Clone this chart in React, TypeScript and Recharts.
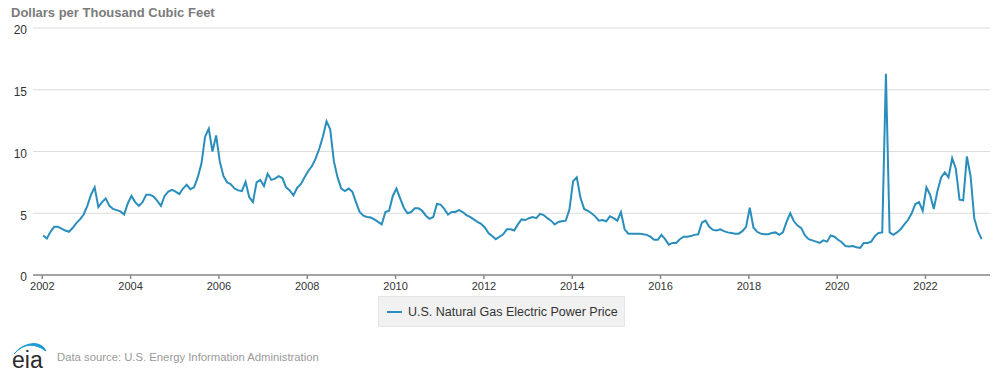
import React from "react";
import { LineChart, Line, XAxis, YAxis, CartesianGrid, Legend } from "recharts";

const startYear = 2002;
const v2002 = [3.2, 2.95, 3.5, 3.9, 3.9, 3.75, 3.6, 3.5, 3.8, 4.2, 4.5, 4.9];
const v2003 = [5.6, 6.5, 7.1, 5.5, 5.9, 6.2, 5.6, 5.35, 5.25, 5.15, 4.9, 5.8];
const v2004 = [6.4, 5.9, 5.6, 5.9, 6.5, 6.5, 6.35, 6.0, 5.6, 6.4, 6.75, 6.9];
const v2005 = [6.75, 6.55, 7.0, 7.3, 6.95, 7.1, 7.9, 9.0, 11.2, 11.85, 10.0, 11.3];
const v2006 = [9.2, 8.0, 7.5, 7.35, 7.0, 6.85, 6.8, 7.55, 6.3, 5.9, 7.5, 7.7];
const v2007 = [7.2, 8.2, 7.7, 7.8, 8.0, 7.85, 7.1, 6.85, 6.45, 7.05, 7.35, 7.9];
const v2008 = [8.4, 8.8, 9.4, 10.2, 11.2, 12.45, 11.8, 9.2, 7.9, 7.0, 6.8, 7.0];
const v2009 = [6.75, 5.9, 5.1, 4.8, 4.7, 4.65, 4.5, 4.3, 4.1, 5.1, 5.2, 6.4];
const v2010 = [7.0, 6.2, 5.45, 5.0, 5.1, 5.4, 5.4, 5.2, 4.8, 4.55, 4.7, 5.75];
const v2011 = [5.7, 5.35, 4.9, 5.1, 5.1, 5.25, 5.1, 4.85, 4.7, 4.5, 4.3, 4.15];
const v2012 = [3.85, 3.4, 3.15, 2.9, 3.1, 3.3, 3.7, 3.7, 3.6, 4.1, 4.5, 4.45];
const v2013 = [4.6, 4.7, 4.6, 4.95, 4.85, 4.6, 4.4, 4.1, 4.3, 4.35, 4.4, 5.3];
const v2014 = [7.6, 7.9, 6.25, 5.35, 5.2, 5.0, 4.75, 4.4, 4.45, 4.35, 4.75, 4.6];
const v2015 = [4.4, 5.1, 3.7, 3.35, 3.35, 3.35, 3.35, 3.3, 3.25, 3.1, 2.85, 2.85];
const v2016 = [3.25, 2.9, 2.45, 2.6, 2.6, 2.9, 3.1, 3.1, 3.15, 3.25, 3.3, 4.25];
const v2017 = [4.4, 3.9, 3.65, 3.6, 3.7, 3.55, 3.45, 3.4, 3.35, 3.35, 3.55, 3.9];
const v2018 = [5.45, 3.85, 3.5, 3.35, 3.3, 3.3, 3.4, 3.45, 3.25, 3.45, 4.3, 5.0];
const v2019 = [4.35, 4.0, 3.8, 3.2, 2.9, 2.8, 2.7, 2.6, 2.8, 2.7, 3.2, 3.1];
const v2020 = [2.85, 2.65, 2.35, 2.3, 2.35, 2.25, 2.2, 2.6, 2.6, 2.7, 3.15, 3.4];
const v2021 = [3.45, 16.3, 3.45, 3.25, 3.45, 3.7, 4.1, 4.45, 5.0, 5.75, 5.9, 5.2];
const v2022 = [7.1, 6.5, 5.35, 6.8, 7.9, 8.3, 7.9, 9.45, 8.6, 6.1, 6.05, 9.6];
const v2023 = [8.0, 4.6, 3.55, 2.9];

const yearlyValues = [
  v2002, v2003, v2004, v2005, v2006, v2007, v2008, v2009, v2010, v2011, v2012,
  v2013, v2014, v2015, v2016, v2017, v2018, v2019, v2020, v2021, v2022, v2023,
];

const xTicks = [2002, 2004, 2006, 2008, 2010, 2012, 2014, 2016, 2018, 2020, 2022];
const yTicks = [0, 5, 10, 15, 20];
const seriesName = "U.S. Natural Gas Electric Power Price";
const unitTitle = "Dollars per Thousand Cubic Feet";
const sourceText = "Data source: U.S. Energy Information Administration";

const data = yearlyValues.flatMap((vals, yi) =>
  vals.map((v, m) => ({ t: startYear + yi + m / 12 + 0.02, price: v }))
);

const FONT = "'Liberation Sans', Arial, Helvetica, sans-serif";
const LINE_COLOR = "#2a8ebc";

const renderLegend = () => (
  <div
    style={{
      width: "100%",
      height: "100%",
      boxSizing: "border-box",
      background: "#f1f1f1",
      border: "1px solid #e6e6e6",
      display: "flex",
      alignItems: "center",
      fontFamily: FONT,
      fontSize: 12.5,
      color: "#333",
    }}
  >
    <span
      style={{
        display: "inline-block",
        width: 15,
        height: 2,
        background: LINE_COLOR,
        marginLeft: 8,
        marginRight: 6,
      }}
    />
    <span>{seriesName}</span>
  </div>
);

export default function App() {
  return (
    <div
      style={{
        position: "absolute",
        left: 0,
        top: 0,
        width: 1000,
        height: 376,
        background: "#fff",
        overflow: "hidden",
        fontFamily: FONT,
      }}
    >
      <div
        style={{
          position: "absolute",
          left: 11,
          top: 6,
          fontSize: 13,
          lineHeight: "13px",
          fontWeight: "bold",
          color: "#7b7b7b",
          whiteSpace: "nowrap",
        }}
      >
        {unitTitle}
      </div>
      <LineChart
        width={1000}
        height={376}
        data={data}
        margin={{ top: 28, right: 10, bottom: 71, left: 0 }}
      >
        <CartesianGrid vertical={false} stroke="#dcdcdc" strokeWidth={1} />
        <XAxis
          dataKey="t"
          type="number"
          domain={[2001.79, 2023.46]}
          ticks={xTicks}
          allowDataOverflow
          height={30}
          stroke="#8a8a8a"
          strokeWidth={1.5}
          tickSize={4}
          tickMargin={3}
          tick={{ fill: "#333", fontSize: 11, fontFamily: FONT }}
          tickFormatter={(v: number) => String(Math.round(v))}
        />
        <YAxis
          type="number"
          domain={[0, 20]}
          ticks={yTicks}
          width={33}
          axisLine={false}
          tickLine={false}
          tickSize={0}
          tickMargin={6}
          tick={{ fill: "#333", fontSize: 12, fontFamily: FONT, dy: 2 }}
        />
        <Legend
          layout="horizontal"
          verticalAlign="middle"
          align="center"
          wrapperStyle={{ left: 378, top: 296, width: 247, height: 31 }}
          content={renderLegend}
        />
        <Line
          type="linear"
          dataKey="price"
          name={seriesName}
          stroke={LINE_COLOR}
          strokeWidth={2}
          dot={false}
          isAnimationActive={false}
        />
      </LineChart>
      <svg
        style={{ position: "absolute", left: 0, top: 335 }}
        width={60}
        height={41}
      >
        <path
          d="M 14 19 Q 28 3 46 16 Q 43 9 34 8.5 Q 22 9 14 19 Z"
          fill="#1a9ad6"
          stroke="#1a9ad6"
          strokeWidth={1}
          strokeLinejoin="round"
        />
        <text x={12} y={33} fontSize={23} fontFamily={FONT} fill="#2b2b2b">
          eia
        </text>
      </svg>
      <div
        style={{
          position: "absolute",
          left: 57,
          top: 351,
          fontSize: 11.3,
          lineHeight: "13px",
          color: "#9a9a9a",
          whiteSpace: "nowrap",
        }}
      >
        {sourceText}
      </div>
    </div>
  );
}
